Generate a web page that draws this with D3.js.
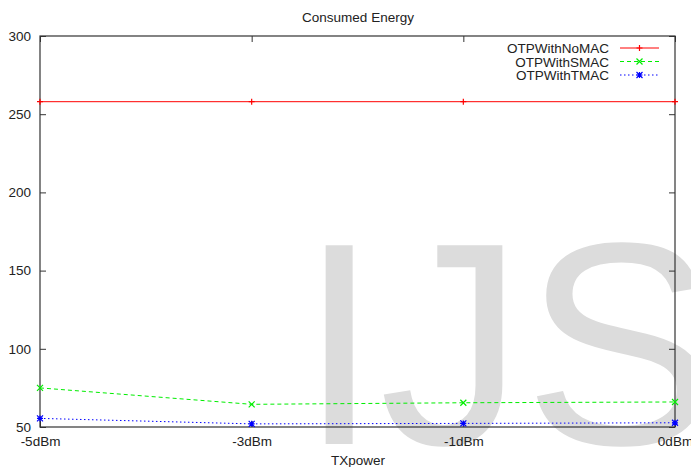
<!DOCTYPE html>
<html>
<head>
<meta charset="utf-8">
<script src="https://cdn.jsdelivr.net/npm/d3@7"></script>
<style>
  body { margin: 0; background: #fff; }
  svg { display: block; }
  text { font-family: "Liberation Sans", Arial, sans-serif; fill: #222; }
</style>
</head>
<body>
<svg id="chart" width="691" height="467"></svg>
<script>
const categories = ["-5dBm", "-3dBm", "-1dBm", "0dBm"];
const noMacValues = [258, 258, 258, 258];
const sMacValues = [75, 64.5, 65.5, 66];
const tMacValues = [55.5, 52, 52.3, 52.7];
const yTicks = [50, 100, 150, 200, 250, 300];
const seriesNames = ["OTPWithNoMAC", "OTPWithSMAC", "OTPWithTMAC"];

const plotLeft = 40, plotRight = 675, plotTop = 36, plotBottom = 427;

const svg = d3.select("#chart");

// watermark behind everything
svg.append("text")
    .attr("x", 299)
    .attr("y", 444)
    .attr("font-size", 289)
    .style("fill", "#dcdcdc")
    .text("IJS");

const x = d3.scalePoint().domain(categories).range([plotLeft, plotRight]);
const y = d3.scaleLinear().domain([50, 300]).range([plotBottom, plotTop]);

const fontSize = 13.5;

// axes (ticks point inward, mirrored)
const gLeft = svg.append("g").attr("transform", `translate(${plotLeft},0)`)
    .call(d3.axisLeft(y).tickValues(yTicks).tickSizeInner(-6).tickSizeOuter(0).tickPadding(9));
const gRight = svg.append("g").attr("transform", `translate(${plotRight},0)`)
    .call(d3.axisRight(y).tickValues(yTicks).tickSizeInner(-6).tickSizeOuter(0).tickFormat(""));
const gBottom = svg.append("g").attr("transform", `translate(0,${plotBottom})`)
    .call(d3.axisBottom(x).tickSizeInner(-6).tickSizeOuter(0).tickPadding(9));
const gTop = svg.append("g").attr("transform", `translate(0,${plotTop})`)
    .call(d3.axisTop(x).tickSizeInner(-6).tickSizeOuter(0).tickFormat(""));

[gLeft, gRight, gBottom, gTop].forEach(g => {
    g.select(".domain").remove();
    g.selectAll("line").attr("stroke", "#333");
    g.selectAll("text")
        .attr("font-size", fontSize)
        .style("font-family", "Liberation Sans, Arial, sans-serif")
        .style("fill", "#222");
});

// border
svg.append("rect")
    .attr("x", plotLeft).attr("y", plotTop)
    .attr("width", plotRight - plotLeft).attr("height", plotBottom - plotTop)
    .attr("fill", "none")
    .attr("stroke", "#333")
    .attr("stroke-width", 1.2);

// titles
svg.append("text")
    .attr("x", 358).attr("y", 22)
    .attr("text-anchor", "middle")
    .attr("font-size", fontSize)
    .text("Consumed Energy");

svg.append("text")
    .attr("x", 358).attr("y", 465)
    .attr("text-anchor", "middle")
    .attr("font-size", fontSize)
    .text("TXpower");

// point marker shapes
function markerPath(type, cx, cy, s) {
    const plus = `M${cx - s},${cy}L${cx + s},${cy}M${cx},${cy - s}L${cx},${cy + s}`;
    const cross = `M${cx - s},${cy - s}L${cx + s},${cy + s}M${cx - s},${cy + s}L${cx + s},${cy - s}`;
    if (type === "plus") return plus;
    if (type === "cross") return cross;
    return plus + cross;
}

const series = [
    { name: seriesNames[0], values: noMacValues, color: "#ff0000", dash: null, marker: "plus" },
    { name: seriesNames[1], values: sMacValues, color: "#00ee00", dash: "4,3", marker: "cross" },
    { name: seriesNames[2], values: tMacValues, color: "#0000ff", dash: "1.5,2.5", marker: "star" }
];

const line = d3.line()
    .x((d, i) => x(categories[i]))
    .y(d => y(d));

series.forEach(s => {
    svg.append("path")
        .datum(s.values)
        .attr("d", line)
        .attr("fill", "none")
        .attr("stroke", s.color)
        .attr("stroke-width", 1)
        .attr("stroke-dasharray", s.dash);

    svg.selectAll(null)
        .data(s.values)
        .enter()
        .append("path")
        .attr("d", (d, i) => markerPath(s.marker, x(categories[i]), y(d), 3))
        .attr("stroke", s.color)
        .attr("stroke-width", 1.2)
        .attr("fill", "none");
});

// legend
const legend = svg.append("g");
series.forEach((s, i) => {
    const ly = 48 + i * 13.5;
    legend.append("text")
        .attr("x", 609).attr("y", ly + 5)
        .attr("text-anchor", "end")
        .attr("font-size", fontSize)
        .text(s.name);
    legend.append("line")
        .attr("x1", 620).attr("x2", 659)
        .attr("y1", ly).attr("y2", ly)
        .attr("stroke", s.color)
        .attr("stroke-dasharray", s.dash);
    legend.append("path")
        .attr("d", markerPath(s.marker, 639.5, ly, 3))
        .attr("stroke", s.color)
        .attr("stroke-width", 1.2)
        .attr("fill", "none");
});
</script>
</body>
</html>
